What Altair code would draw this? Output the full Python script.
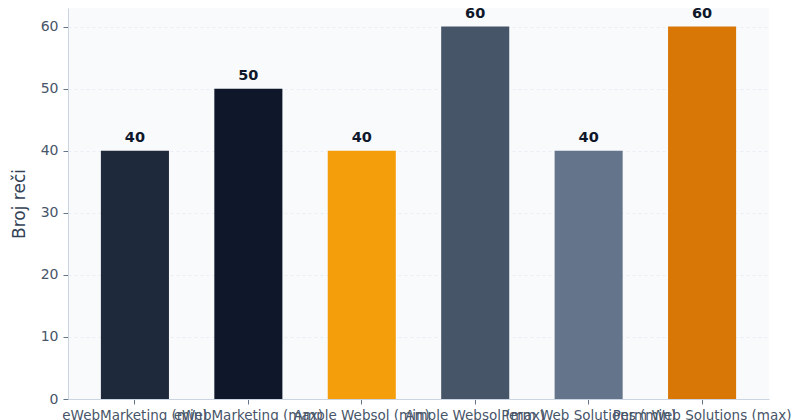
import altair as alt
import pandas as pd

categories = [
    "eWebMarketing (min)",
    "eWebMarketing (max)",
    "Ample Websol (min)",
    "Ample Websol (max)",
    "Perm Web Solutions (min)",
    "Perm Web Solutions (max)",
]
values = [40, 50, 40, 60, 40, 60]
colors = ["#1e293b", "#0f172a", "#f59e0b", "#475569", "#64748b", "#d97706"]

df = pd.DataFrame({"cat": categories, "val": values, "color": colors})

x = alt.X(
    "cat:N",
    sort=categories,
    title=None,
    scale=alt.Scale(paddingInner=0.4, paddingOuter=0.29),
    axis=alt.Axis(
        labelAngle=0,
        labelOverlap=False,
        labelFont="DejaVu Sans",
        labelFontSize=13.5,
        labelColor="#475569",
        labelPadding=4,
        domainColor="#cbd5e1",
        tickColor="#64748b",
        tickSize=5,
        grid=False,
    ),
)
y = alt.Y(
    "val:Q",
    title="Broj reči",
    scale=alt.Scale(domain=[0, 63], nice=False),
    axis=alt.Axis(
        values=[0, 10, 20, 30, 40, 50, 60],
        labelFont="DejaVu Sans",
        labelFontSize=14,
        labelColor="#475569",
        labelPadding=5,
        titleFont="DejaVu Sans",
        titleFontSize=17,
        titleFontWeight="normal",
        titleColor="#334155",
        titlePadding=12,
        domainColor="#cbd5e1",
        tickColor="#64748b",
        tickSize=5,
        gridColor="#e2e8f0",
        gridDash=[3, 3],
        gridOpacity=0.6,
    ),
)

bars = alt.Chart(df).mark_bar().encode(
    x=x, y=y, color=alt.Color("color:N", scale=None)
)
labels = alt.Chart(df).mark_text(
    dy=-13, font="DejaVu Sans", fontSize=14.5, fontWeight="bold", color="#0f172a"
).encode(x=alt.X("cat:N", sort=categories), y="val:Q", text="val:Q")

chart = (
    alt.layer(bars, labels)
    .properties(
        width=701,
        height=391,
        autosize=alt.AutoSizeParams(type="none"),
        padding={"left": 60, "top": 0, "right": 23, "bottom": 22},
        background="#ffffff",
    )
    .configure_view(fill="#f8fafc", stroke=None)
)

chart.save("out.html", embed_options={"renderer": "svg", "actions": False})
